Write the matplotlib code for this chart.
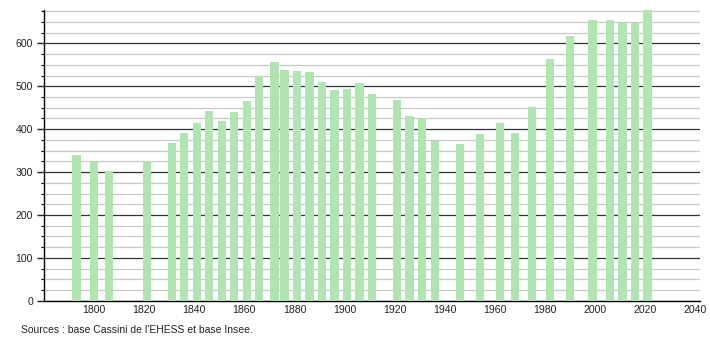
import matplotlib.pyplot as plt
from matplotlib.ticker import MultipleLocator

# census years and population
years = [1793, 1800, 1806, 1821, 1831, 1836, 1841, 1846, 1851, 1856,
         1861, 1866, 1872, 1876, 1881, 1886, 1891, 1896, 1901, 1906,
         1911, 1921, 1926, 1931, 1936, 1946, 1954, 1962, 1968, 1975,
         1982, 1990, 1999, 2006, 2011, 2016, 2021]
population = [340, 325, 303, 325, 368, 391, 414, 442, 419, 440,
              466, 525, 556, 538, 535, 533, 510, 491, 494, 508,
              482, 468, 431, 424, 372, 365, 389, 414, 391, 451,
              564, 618, 655, 655, 648, 648, 677]

x_ticks = list(range(1800, 2041, 20))
y_ticks = list(range(0, 601, 100))
source_text = "Sources : base Cassini de l'EHESS et base Insee."

plt.rcParams['font.family'] = ['Liberation Sans', 'DejaVu Sans']

fig = plt.figure(figsize=(7.1, 3.4), dpi=100)
ax = fig.add_axes([0.062, 0.1156, 0.924, 0.855])

ax.bar(years, population, width=3.3, color='#b0e4b0', zorder=3)

ax.set_xlim(1780, 2042)
ax.set_ylim(0, 678)
ax.set_xticks(x_ticks)
ax.set_yticks(y_ticks)
ax.yaxis.set_minor_locator(MultipleLocator(25))

ax.grid(axis='y', which='major', color='#333333', linewidth=0.9, zorder=1)
ax.grid(axis='y', which='minor', color='#c8c8c8', linewidth=0.9, zorder=1)
ax.set_axisbelow(True)

for side in ['top', 'right']:
    ax.spines[side].set_visible(False)
ax.spines['left'].set_linewidth(1.0)
ax.spines['bottom'].set_linewidth(1.0)

ax.tick_params(axis='x', length=0, pad=3, labelsize=7.6, colors='#222222')
ax.tick_params(axis='y', which='major', length=5, width=1, pad=3,
               labelsize=7.6, colors='#222222')
ax.tick_params(axis='y', which='minor', length=2.5, width=0.8)

fig.text(0.029, 0.02, source_text, fontsize=7.5, color='#222222')

fig.savefig('out.png', dpi=100)
